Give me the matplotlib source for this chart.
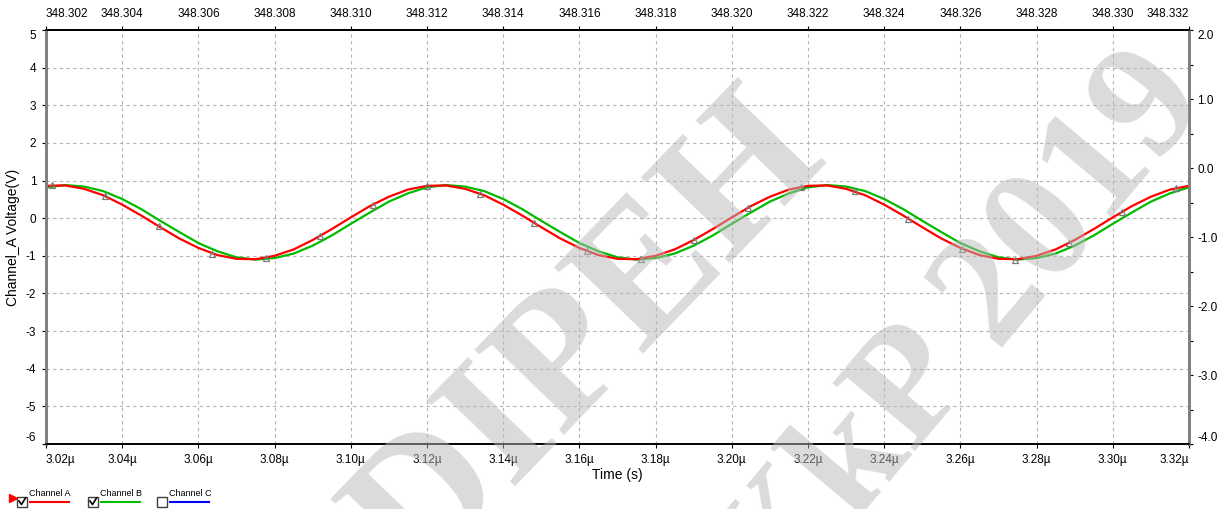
import matplotlib

matplotlib.use("Agg")
import matplotlib.pyplot as plt
from matplotlib.lines import Line2D
from matplotlib.patches import Rectangle

plt.rcParams["font.family"] = ["Liberation Sans", "DejaVu Sans"]

W, H = 1224, 509

# Scope trace samples, time in microseconds
time_us = [
    3.020, 3.025, 3.030, 3.035, 3.040, 3.045, 3.050, 3.055, 3.060, 3.065,
    3.070, 3.075, 3.080, 3.085, 3.090, 3.095, 3.100, 3.105, 3.110, 3.115,
    3.120, 3.125, 3.130, 3.135, 3.140, 3.145, 3.150, 3.155, 3.160, 3.165,
    3.170, 3.175, 3.180, 3.185, 3.190, 3.195, 3.200, 3.205, 3.210, 3.215,
    3.220, 3.225, 3.230, 3.235, 3.240, 3.245, 3.250, 3.255, 3.260, 3.265,
    3.270, 3.275, 3.280, 3.285, 3.290, 3.295, 3.300, 3.305, 3.310, 3.315,
    3.320,
]
channel_a = [
    0.86, 0.87, 0.78, 0.61, 0.36, 0.07, -0.24, -0.54, -0.79, -0.98,
    -1.08, -1.09, -1.00, -0.83, -0.58, -0.29, 0.02, 0.32, 0.57, 0.76,
    0.86, 0.87, 0.78, 0.61, 0.36, 0.07, -0.24, -0.54, -0.79, -0.98,
    -1.08, -1.09, -1.00, -0.83, -0.58, -0.29, 0.02, 0.32, 0.57, 0.76,
    0.86, 0.87, 0.78, 0.61, 0.36, 0.07, -0.24, -0.54, -0.79, -0.98,
    -1.08, -1.09, -1.00, -0.83, -0.58, -0.29, 0.02, 0.32, 0.57, 0.76,
    0.86,
]
channel_b = [
    0.82, 0.88, 0.84, 0.72, 0.51, 0.24, -0.07, -0.37, -0.66, -0.88,
    -1.04, -1.10, -1.06, -0.94, -0.73, -0.46, -0.15, 0.15, 0.44, 0.66,
    0.82, 0.88, 0.84, 0.72, 0.51, 0.24, -0.07, -0.37, -0.66, -0.88,
    -1.04, -1.10, -1.06, -0.94, -0.73, -0.46, -0.15, 0.15, 0.44, 0.66,
    0.82, 0.88, 0.84, 0.72, 0.51, 0.24, -0.07, -0.37, -0.66, -0.88,
    -1.04, -1.10, -1.06, -0.94, -0.73, -0.46, -0.15, 0.15, 0.44, 0.66,
    0.82,
]

# Sample points marked on channel A
marker_time_us = [
    3.0215, 3.0356, 3.0496, 3.0637, 3.0777, 3.0918, 3.1058, 3.1199,
    3.1339, 3.1480, 3.1620, 3.1761, 3.1901, 3.2042, 3.2182, 3.2323,
    3.2463, 3.2604, 3.2744, 3.2885, 3.3025, 3.3166,
]
marker_a = [
    0.88, 0.58, -0.22, -0.94, -1.05, -0.48, 0.36, 0.86,
    0.65, -0.12, -0.88, -1.08, -0.58, 0.27, 0.84, 0.71,
    -0.01, -0.81, -1.10, -0.66, 0.17, 0.80,
]

x_ticks = [3.02, 3.04, 3.06, 3.08, 3.10, 3.12, 3.14, 3.16,
           3.18, 3.20, 3.22, 3.24, 3.26, 3.28, 3.30, 3.32]
bottom_labels = ["3.02µ", "3.04µ", "3.06µ", "3.08µ", "3.10µ", "3.12µ",
                 "3.14µ", "3.16µ", "3.18µ", "3.20µ", "3.22µ", "3.24µ",
                 "3.26µ", "3.28µ", "3.30µ", "3.32µ"]
top_labels = ["348.302", "348.304", "348.306", "348.308", "348.310",
              "348.312", "348.314", "348.316", "348.318", "348.320",
              "348.322", "348.324", "348.326", "348.328", "348.330",
              "348.332"]
left_ticks = [-6, -5, -4, -3, -2, -1, 0, 1, 2, 3, 4, 5]
right_ticks = [-4.0, -3.0, -2.0, -1.0, 0.0, 1.0, 2.0]
right_minor = [-3.5, -2.5, -1.5, -0.5, 0.5, 1.5]

legend_items = ["Channel A", "Channel B", "Channel C"]
legend_colors = ["#ff0000", "#00c000", "#0000ff"]
legend_checked = [True, True, False]

watermark_lines = ["DIPEH", "ЖkP 2019"]


def fx(px):
    return px / W


def fy(py):
    return 1 - py / H


fig = plt.figure(figsize=(W / 100, H / 100), dpi=100)
ax = fig.add_axes([fx(46), fy(444), (1189 - 46) / W, (444 - 30) / H])
ax.set_xlim(3.02, 3.32)
ax.set_ylim(-6, 5)

ax.plot(time_us, channel_b, color="#00bb00", lw=1.6, zorder=3)
ax.plot(time_us, channel_a, color="#ff0000", lw=1.6, zorder=4)
ax.plot(marker_time_us, marker_a, ls="none", marker="^", ms=5,
        mfc="none", mec="#7a7a7a", mew=0.9, zorder=5)

ax.set_xticks(x_ticks, bottom_labels)
ax.set_yticks(left_ticks, [str(v) for v in left_ticks])
ax.grid(True, color="#b4b4b4", ls=(0, (3, 3)), lw=0.8)
ax.tick_params(labelsize=8.5, length=3, width=0.8, pad=4)
ax.set_xlabel("Time (s)", fontsize=10, labelpad=2)
ax.set_ylabel("Channel_A Voltage(V)", fontsize=10, labelpad=4)

xl = ax.get_xticklabels()
xl[0].set_ha("left")
xl[-1].set_ha("right")
yl = ax.get_yticklabels()
yl[0].set_va("bottom")
yl[-1].set_va("top")

top = ax.secondary_xaxis("top")
top.set_xticks(x_ticks, top_labels)
top.tick_params(labelsize=8.5, length=3, width=0.8, pad=4)
tl = top.get_xticklabels()
tl[0].set_ha("left")
tl[-1].set_ha("right")
top.spines["top"].set_linewidth(1.2)

right = ax.twinx()
right.set_ylim(-4, 2)
right.set_yticks(right_ticks, [f"{v:.1f}" for v in right_ticks])
right.set_yticks(right_minor, minor=True)
right.tick_params(labelsize=8.5, length=3, width=0.8, pad=3)
right.tick_params(which="minor", length=3, width=0.8)
rl = right.get_yticklabels()
rl[0].set_va("bottom")
rl[-1].set_va("top")

for a in (ax, right):
    a.spines["left"].set_color("#808080")
    a.spines["left"].set_linewidth(2)
    a.spines["right"].set_color("#808080")
    a.spines["right"].set_linewidth(2)
    a.spines["bottom"].set_linewidth(1.2)
    a.spines["top"].set_linewidth(1.2)

# channel selector strip under the plot
box_x = [17, 88, 157]
for name, color, checked, bx in zip(legend_items, legend_colors,
                                    legend_checked, box_x):
    fig.add_artist(Rectangle((fx(bx), fy(507)), 10 / W, 10 / H,
                             transform=fig.transFigure, facecolor="white",
                             edgecolor="#404040", lw=1.0))
    if checked:
        fig.add_artist(Line2D([fx(bx + 2), fx(bx + 4.5), fx(bx + 8.5)],
                              [fy(501), fy(504.5), fy(498)],
                              transform=fig.transFigure, color="black",
                              lw=1.2))
    fig.text(fx(bx + 12), fy(493), name, fontsize=6.5, va="center",
             ha="left")
    fig.add_artist(Line2D([fx(bx + 13), fx(bx + 52)], [fy(502), fy(502)],
                          transform=fig.transFigure, color=color, lw=1.5))
fig.add_artist(Line2D([fx(13)], [fy(498)], transform=fig.transFigure,
                      marker=">", ms=6, color="#ff0000", ls="none"))

# watermark
fig.text(fx(590), fy(340), watermark_lines[0], fontsize=135, rotation=46,
         ha="center", va="center", color="#b8b8b8", alpha=0.5,
         family="Liberation Serif", weight="bold", zorder=10)
fig.text(fx(950), fy(350), watermark_lines[1], fontsize=118, rotation=50,
         ha="center", va="center", color="#b8b8b8", alpha=0.5,
         family="Liberation Serif", weight="bold", zorder=10)

fig.savefig("out.png", dpi=100)
